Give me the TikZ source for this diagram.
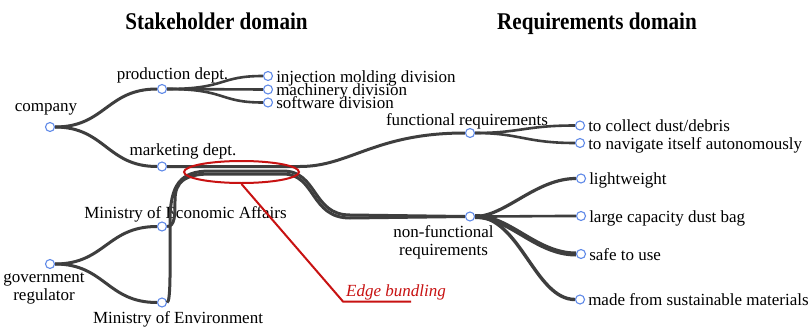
\documentclass[tikz,border=0pt]{standalone}
\usepackage{fontspec}
\setmainfont{Liberation Serif}
\newfontfamily\headfont[FakeStretch=0.88]{Liberation Serif}
\usepackage{tikz}
\usetikzlibrary{positioning, shapes.geometric}

\definecolor{edgegray}{RGB}{62,62,62}
\definecolor{dotblue}{RGB}{96,138,232}
\definecolor{markred}{RGB}{200,18,18}

\begin{document}
\begin{tikzpicture}[
  x=1pt, y=-1pt,
  node distance=3pt,
  dot/.style={circle, draw=dotblue, fill=white, line width=1.1pt,
              minimum size=9pt, inner sep=0pt},
  twoline/.style={font=\fontsize{17}{18}\selectfont, inner sep=0pt,
                  align=center},
  txt/.style={twoline, text height=12pt, text depth=4pt},
  leaf/.style={txt, yshift=-2pt},
  head/.style={font=\headfont\bfseries\fontsize{24}{26}\selectfont,
               inner sep=0pt, anchor=base},
  edge/.style={draw=edgegray, line width=3pt},
  callout/.style={draw=markred, line width=2pt},
]
\path[fill=white] (0,0) rectangle (810,329);
\useasboundingbox (0,0) rectangle (810,329);

%% ── Titres ──────────────────────────────────────────────────────────────
\node[head] (stakehead) at (216.5,29.3) {Stakeholder domain};
\node[head] (reqhead)   at (597,29.3)   {Requirements domain};

%% ── Stakeholder domain : noeuds ─────────────────────────────────────────
\node[dot] (comp) at (50,127)    {};
\node[dot] (prod) at (162,89)    {};
\node[dot] (inj)  at (268,76)    {};
\node[dot] (mach) at (268,89.5)  {};
\node[dot] (soft) at (268,102.5) {};
\node[dot] (mkt)  at (162,166.5) {};
\node[dot] (gov)  at (50,264)    {};
\node[dot] (eco)  at (162,226.5) {};
\node[dot] (env)  at (162,302.5) {};

\node[txt, above=6pt of comp, xshift=-4pt]    (comptxt) {company};
\node[txt, above=0pt of prod, xshift=10.5pt]  (prodtxt) {production dept.};
\node[leaf, right=of inj]  (injtxt)  {injection molding division};
\node[leaf, right=of mach] (machtxt) {machinery division};
\node[leaf, right=of soft] (softtxt) {software division};
\node[txt, above=1.5pt of mkt, xshift=21pt]   (mkttxt)  {marketing dept.};
\node[twoline, below=0.5pt of gov, xshift=-6pt] (govtxt)
  {\strut government\\regulator\strut};
\node[txt, above=-1pt of eco, xshift=23.5pt]  (ecotxt)  {Ministry of Economic Affairs};
\node[txt, below=4pt of env, xshift=16pt]     (envtxt)  {Ministry of Environment};

%% ── Requirements domain : noeuds ────────────────────────────────────────
\node[dot] (func)  at (470,133)   {};
\node[dot] (coll)  at (580,125.5) {};
\node[dot] (navi)  at (580,143)   {};
\node[dot] (nonf)  at (470,216.5) {};
\node[dot] (light) at (581,178.5) {};
\node[dot] (dust)  at (581,216)   {};
\node[dot] (safe)  at (581,254)   {};
\node[dot] (mat)   at (580,299.5) {};

\node[txt, above=-2pt of func, xshift=-3pt]   (functxt) {functional requirements};
\node[leaf, right=of coll]  (colltxt)  {to collect dust/debris};
\node[leaf, right=of navi]  (navitxt)  {to navigate itself autonomously};
\node[twoline, below=3pt of nonf, xshift=-26.5pt] (nonftxt)
  {\strut non-functional\\requirements\strut};
\node[leaf, right=of light] (lighttxt) {lightweight};
\node[leaf, right=of dust]  (dusttxt)  {large capacity dust bag};
\node[leaf, right=of safe]  (safetxt)  {safe to use};
\node[leaf, right=of mat]   (mattxt)   {made from sustainable materials};

%% ── Arêtes : hiérarchie des parties prenantes ───────────────────────────
\draw[edge] (comp.east) .. controls +(50,0) and +(-50,0) .. (prod.west);
\draw[edge] (comp.east) .. controls +(50,0) and +(-50,0) .. (mkt.west);
\draw[edge, line width=2.6pt] (prod.east) .. controls +(60,0) and +(-45,0) .. (inj.west);
\draw[edge, line width=2.6pt] (prod.east) -- (mach.west);
\draw[edge, line width=2.6pt] (prod.east) .. controls +(60,0) and +(-45,0) .. (soft.west);
\draw[edge] (gov.east) .. controls +(50,0) and +(-50,0) .. (eco.west);
\draw[edge] (gov.east) .. controls +(50,0) and +(-50,0) .. (env.west);

%% ── Arête marketing -> exigences fonctionnelles ─────────────────────────
\coordinate (mktbend) at (300,166.5);
\draw[edge] (mkt.east) -- (mktbend)
  .. controls +(50,0) and +(-90,0) .. (func.west);

%% ── Faisceau : ministères -> exigences non fonctionnelles ───────────────
\draw[edge] (env.east) .. controls (171,302.5) and (170,262) .. (170,222)
  .. controls (170,185) and (180,171) .. (210,171) -- (283,171)
  .. controls (318,171) and (312,215) .. (350,215) -- (nonf.west);
\draw[edge] (eco.east) .. controls (175,226.5) and (175,215) .. (175,200)
  .. controls (175,182) and (185,174) .. (210,174) -- (283,174)
  .. controls (316,174) and (310,218) .. (350,218) -- (nonf.west);

%% ── Éventail des exigences ──────────────────────────────────────────────
\draw[edge, line width=2.6pt] (func.east) .. controls +(45,0) and +(-50,0) .. (coll.west);
\draw[edge, line width=2.6pt] (func.east) .. controls +(45,0) and +(-50,0) .. (navi.west);
\draw[edge, line width=3.2pt] (nonf.east) .. controls +(30,0) and +(-40,0) .. (light.west);
\draw[edge, line width=2.6pt] (nonf.east) .. controls +(40,0) and +(-40,0) .. (dust.west);
\draw[edge, line width=5pt]   (nonf.east) .. controls +(35,0) and +(-40,0) .. (safe.west);
\draw[edge, line width=3.4pt] (nonf.east) .. controls +(45,0) and +(-40,0) .. (mat.west);

%% ── Annotation "Edge bundling" ──────────────────────────────────────────
\node[callout, ellipse, minimum width=115pt, minimum height=22pt, inner sep=0pt]
  (ring) at (241.5,172) {};
\node[font=\fontsize{17}{18}\selectfont\itshape, text=markred, inner sep=0pt,
      anchor=base west] (ringtxt) at (346,296.7) {Edge bundling};
\coordinate (ringknee) at (343,301.5);
\coordinate (ringend)  at (411,301.5);
\draw[callout] (ring.south) -- (ringknee) -- (ringend);

\end{tikzpicture}
\end{document}
